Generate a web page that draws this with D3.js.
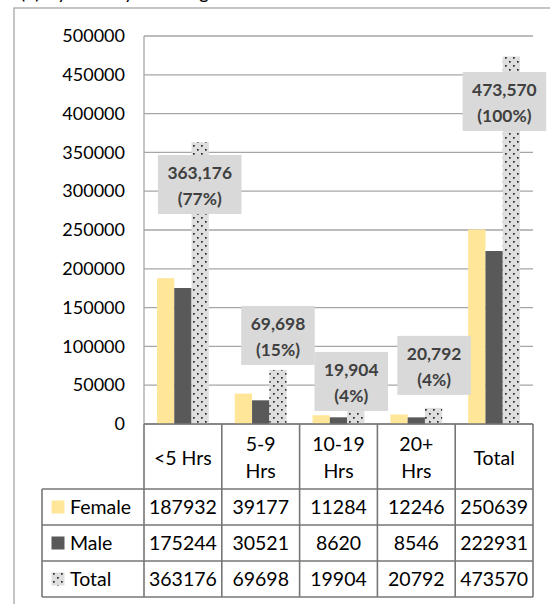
<!DOCTYPE html>
<html><head><meta charset="utf-8">
<script src="https://cdn.jsdelivr.net/npm/d3@7"></script>
<style>body{margin:0;background:#fff}svg{display:block;font-family:Lato,"Noto Sans",sans-serif}</style>
</head><body><svg id="c" width="550" height="604"></svg>
<script>
const categories = ["<5 Hrs", "5-9 Hrs", "10-19 Hrs", "20+ Hrs", "Total"];
const categoryLines = [["<5 Hrs"], ["5-9", "Hrs"], ["10-19", "Hrs"], ["20+", "Hrs"], ["Total"]];
const seriesNames = ["Female", "Male", "Total"];
const female = [187932, 39177, 11284, 12246, 250639];
const male = [175244, 30521, 8620, 8546, 222931];
const total = [363176, 69698, 19904, 20792, 473570];
const totalPct = ["77%", "15%", "4%", "4%", "100%"];
const yTicks = [0, 50000, 100000, 150000, 200000, 250000, 300000, 350000, 400000, 450000, 500000];
const titleText = "(b) By Weekly Working Hours";

const series = [female, male, total];
const svg = d3.select("#c");
const colors = ["#ffe699", "#595959", "url(#dots)"];

// pattern for Total
const defs = svg.append("defs");
const pat = defs.append("pattern").attr("id", "dots").attr("patternUnits", "userSpaceOnUse")
  .attr("width", 8).attr("height", 8);
pat.append("rect").attr("width", 8).attr("height", 8).attr("fill", "#dedede");
pat.append("rect").attr("x", 1).attr("y", 1).attr("width", 1.7).attr("height", 1.7).attr("fill", "#2a2a2a");
pat.append("rect").attr("x", 5).attr("y", 5).attr("width", 1.7).attr("height", 1.7).attr("fill", "#2a2a2a");

// title fragment (cut off at the top, as in the original) and outer border
svg.append("text").attr("x", 20).attr("y", -1).attr("font-size", 19).attr("fill", "#000").text(titleText);
svg.append("rect").attr("x", 14).attr("y", 8).attr("width", 560).attr("height", 620)
  .attr("fill", "none").attr("stroke", "#a6a6a6").attr("stroke-width", 1.3);

const L = 144, R = 533, T = 36, B = 424;
const x0 = d3.scaleBand().domain(categories).range([L, R]).paddingInner(0).paddingOuter(0);
const bw = x0.bandwidth() / 4.5;
const x1 = d3.scaleBand().domain(seriesNames).range([0.75 * bw, 3.75 * bw]).padding(0);
const y = d3.scaleLinear().domain([0, 500000]).range([B, T]);

// gridlines
svg.append("g").selectAll("line").data(yTicks).join("line")
  .attr("x1", L).attr("x2", R).attr("y1", d => y(d)).attr("y2", d => y(d))
  .attr("stroke", "#a6a6a6").attr("stroke-width", 1.3);
svg.append("line").attr("x1", L).attr("x2", L).attr("y1", T).attr("y2", B)
  .attr("stroke", "#a6a6a6").attr("stroke-width", 1.3);

// y axis labels
const yAxis = d3.axisLeft(y).tickValues(yTicks).tickSize(0).tickPadding(0).tickFormat(d3.format("d"));
const ga = svg.append("g").attr("transform", `translate(125,0)`).call(yAxis);
ga.select(".domain").remove();
ga.selectAll("text").attr("font-size", 18).attr("font-family", "Lato").attr("fill", "#000");

// bars
const bars = svg.append("g");
categories.forEach((c, i) => {
  series.forEach((s, k) => {
    bars.append("rect").attr("x", x0(c) + x1(seriesNames[k])).attr("width", x1.bandwidth())
      .attr("y", y(s[i])).attr("height", B - y(s[i])).attr("fill", colors[k]);
  });
});

// data labels (manually placed as in the original)
const labelDx = [-0.5, 0, -4.5, 0.5, -7];
const labelDy = [12.8, -64, -56.6, -72, 15.5];
const fmt = d3.format(",");
const lg = svg.append("g");
categories.forEach((c, i) => {
  const cx = x0(c) + x1("Total") + x1.bandwidth() / 2 + labelDx[i];
  const top = y(total[i]) + labelDy[i];
  const g = lg.append("g");
  const t1 = fmt(total[i]), t2 = "(" + totalPct[i] + ")";
  const tmp = g.append("text").attr("font-size", 17.4).attr("font-weight", "bold").text(t1);
  const w = tmp.node().getComputedTextLength();
  tmp.remove();
  g.append("rect").attr("x", cx - w / 2 - 9.5).attr("y", top).attr("width", w + 19).attr("height", 59).attr("fill", "#d9d9d9");
  g.append("text").attr("x", cx).attr("y", top + 24).attr("text-anchor", "middle").attr("font-size", 17.4)
    .attr("font-weight", "bold").attr("fill", "#404040").text(t1);
  g.append("text").attr("x", cx).attr("y", top + 50).attr("text-anchor", "middle").attr("font-size", 17.4)
    .attr("font-weight", "bold").attr("fill", "#404040").text(t2);
});

// data table
const tb = svg.append("g");
const rowTops = [424, 489, 525, 561, 597];
const lineStyle = s => s.attr("stroke", "#767676").attr("stroke-width", 1.6);
tb.append("line").attr("x1", L).attr("x2", R).attr("y1", rowTops[0]).attr("y2", rowTops[0]).call(lineStyle);
for (let r = 1; r < rowTops.length; r++) {
  tb.append("line").attr("x1", 42).attr("x2", R).attr("y1", rowTops[r]).attr("y2", rowTops[r]).call(lineStyle);
}
const vx = [L].concat(categories.map(c => x0(c) + x0.bandwidth()));
vx.forEach(xx => tb.append("line").attr("x1", xx).attr("x2", xx).attr("y1", rowTops[0]).attr("y2", rowTops[4]).call(lineStyle));
tb.append("line").attr("x1", 42).attr("x2", 42).attr("y1", rowTops[1]).attr("y2", rowTops[4]).call(lineStyle);

// header texts
categories.forEach((c, i) => {
  const lines = categoryLines[i];
  const cx = x0(c) + x0.bandwidth() / 2;
  const mid = (rowTops[0] + rowTops[1]) / 2 + 1.5;
  lines.forEach((ln, j) => {
    tb.append("text").attr("x", cx).attr("y", mid + (j - (lines.length - 1) / 2) * 27)
      .attr("dy", "0.35em").attr("text-anchor", "middle").attr("font-size", 19.5).attr("fill", "#000").text(ln);
  });
});
// rows
series.forEach((s, k) => {
  const cy = (rowTops[k + 1] + rowTops[k + 2]) / 2;
  tb.append("rect").attr("x", 51.5).attr("y", cy - 6.5).attr("width", 13).attr("height", 13).attr("fill", colors[k]);
  tb.append("text").attr("x", 70).attr("y", cy).attr("dy", "0.35em").attr("font-size", 19.5).attr("fill", "#000").text(seriesNames[k]);
  categories.forEach((c, i) => {
    tb.append("text").attr("x", x0(c) + x0.bandwidth() / 2).attr("y", cy).attr("dy", "0.35em")
      .attr("text-anchor", "middle").attr("font-size", 19.5).attr("fill", "#000").text(s[i]);
  });
});
</script></body></html>
